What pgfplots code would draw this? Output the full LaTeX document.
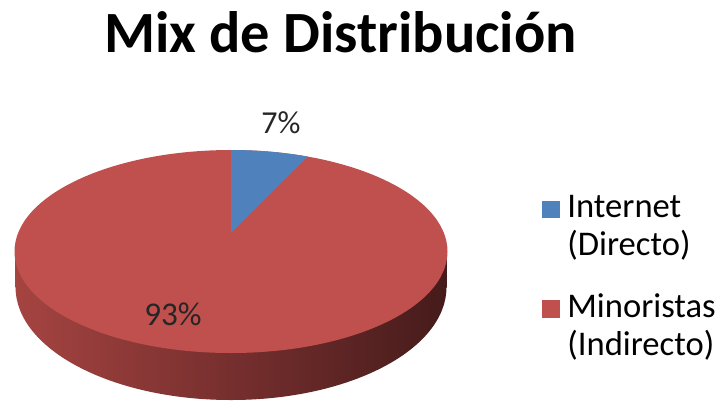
\documentclass[border=0pt]{standalone}
\usepackage{pgfplots}
\pgfplotsset{compat=1.18}
\usepackage{pgfplotstable}
\usepackage{fontspec}
\setmainfont{Carlito}
\definecolor{pieblue}{RGB}{79,129,189}
\definecolor{piered}{RGB}{192,80,77}
\definecolor{sideL}{RGB}{165,68,65}
\definecolor{sideM}{RGB}{118,47,46}
\definecolor{sideR}{RGB}{70,27,27}
\pgfplotstableread{
label value
Internet 7
Minoristas 93
}\piedata
\begin{document}
\begin{tikzpicture}
\pgfplotstablegetelem{0}{value}\of\piedata
\pgfmathsetmacro\phiend{90-3.6*\pgfplotsretval}
\pgfmathsetmacro\wx{231+4*216.5*cos(\phiend)}
\pgfmathsetmacro\wy{233-4*101.5*sin(\phiend)}
\begin{axis}[width=360.5pt,height=201.5pt,scale only axis,hide axis,
  xmin=0,xmax=721,ymin=0,ymax=403,y dir=reverse,clip=false]
\path (axis cs:0,0) (axis cs:721,403);
% side of the pie
\shade[left color=sideL,right color=sideR,middle color=sideM]
  (axis cs:231,287) ellipse [x radius=215.5, y radius=113];
\shade[left color=sideL,right color=sideR,middle color=sideM]
  (axis cs:15.5,251.5) rectangle (axis cs:446.5,287);
% top face
\fill[piered] (axis cs:231,251.5) ellipse [x radius=216.5, y radius=101.5];
\begin{scope}
\clip (axis cs:231,251.5) ellipse [x radius=216.5, y radius=101.5];
\fill[pieblue] (axis cs:231,233) -- (axis cs:231,0) -- (axis cs:\wx,\wy) -- cycle;
\end{scope}
% labels
\node[anchor=base,font=\fontsize{16}{19}\selectfont,text=black!85] at (axis cs:281,133) {7\%};
\node[anchor=base,font=\fontsize{16.6}{19}\selectfont,text=black!85] at (axis cs:173,325) {93\%};
% title
\node[anchor=base,font=\bfseries\fontsize{29.2}{35}\selectfont] at (axis cs:340.5,52) {Mix de Distribución};
% legend
\fill[pieblue] (axis cs:542,201) rectangle (axis cs:560,218);
\fill[piered] (axis cs:542,300) rectangle (axis cs:560,318);
\node[anchor=base west,inner sep=0pt,font=\fontsize{17.3}{19}\selectfont] at (axis cs:567,217) {Internet};
\node[anchor=base west,inner sep=0pt,font=\fontsize{17.3}{19}\selectfont] at (axis cs:567,255) {(Directo)};
\node[anchor=base west,inner sep=0pt,font=\fontsize{17.3}{19}\selectfont] at (axis cs:567,317) {Minoristas};
\node[anchor=base west,inner sep=0pt,font=\fontsize{17.3}{19}\selectfont] at (axis cs:567,355) {(Indirecto)};
\end{axis}
\end{tikzpicture}
\end{document}
